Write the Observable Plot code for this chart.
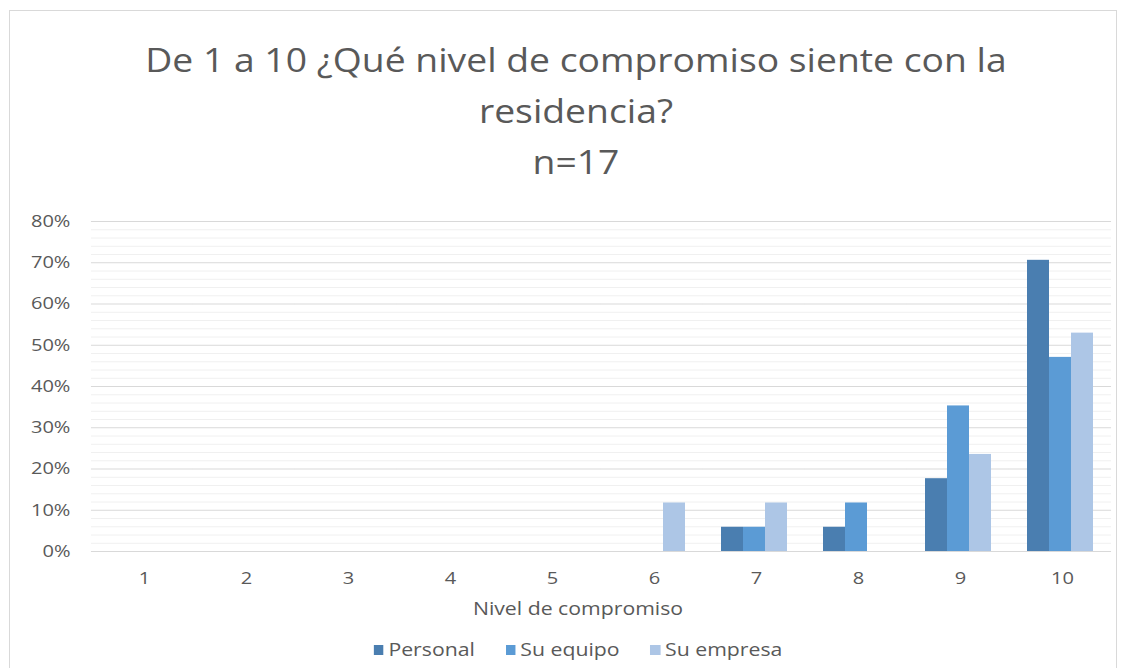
<!DOCTYPE html>
<html>
<head>
<meta charset="utf-8">
<script src="https://cdn.jsdelivr.net/npm/d3@7"></script>
<script src="https://cdn.jsdelivr.net/npm/@observablehq/plot@0.6"></script>
<style>
  html, body { margin: 0; padding: 0; background: #fff; width: 1127px; height: 668px; overflow: hidden; }
  body { position: relative; font-family: "Open Sans", sans-serif; color: #595959; }
  #frame { position: absolute; left: 9px; top: 10px; width: 1108px; height: 700px; border: 1px solid #d9d9d9; box-sizing: border-box; }
  #title { position: absolute; left: 76px; width: 1000px; top: 34px; text-align: center; font-size: 33px; line-height: 51px; color: #595959; transform: scaleX(1.13); transform-origin: 500px 0; }
  #chart { position: absolute; left: 0; top: 195px; }
  #xlabel { position: absolute; left: 378px; width: 400px; top: 596px; text-align: center; font-size: 18px; color: #595959; transform: scaleX(1.18); transform-origin: 200px 0; }
  #legend { position: absolute; left: 278px; width: 600px; top: 637px; text-align: center; font-size: 18px; color: #595959; white-space: nowrap; transform: scaleX(1.18); transform-origin: 300px 0; }
  #legend span.item { display: inline-block; margin: 0 13px; }
  #legend span.sw { display: inline-block; width: 8.5px; height: 10px; margin-right: 4px; vertical-align: 1px; }
</style>
</head>
<body>
<div id="frame"></div>
<div id="title">De 1 a 10 ¿Qué nivel de compromiso siente con la<br>residencia?<br>n=17</div>
<div id="chart"></div>
<div id="xlabel">Nivel de compromiso</div>
<div id="legend"></div>
<script>
// ---- data ----
const levels = ["1", "2", "3", "4", "5", "6", "7", "8", "9", "10"];
const seriesNames = ["Personal", "Su equipo", "Su empresa"];
const personal = [0, 0, 0, 0, 0, 0, 0.0588, 0.0588, 0.1765, 0.7059];
const suEquipo = [0, 0, 0, 0, 0, 0, 0.0588, 0.1176, 0.3529, 0.4706];
const suEmpresa = [0, 0, 0, 0, 0, 0.1176, 0.1176, 0, 0.2353, 0.5294];
const yTicks = [0, 0.1, 0.2, 0.3, 0.4, 0.5, 0.6, 0.7, 0.8];
const colors = ["#4a7eb0", "#5b9bd5", "#adc6e6"];

// ---- table ----
const valuesBySeries = [personal, suEquipo, suEmpresa];
const rows = [];
levels.forEach((lv, i) => {
  seriesNames.forEach((s, j) => rows.push({level: lv, series: s, value: valuesBySeries[j][i]}));
});
const minorGrid = d3.range(0, 0.801, 0.02).filter(v => Math.abs(Math.round(v * 10) - v * 10) > 1e-6);

const mLeft = 89, mRight = 15;
const step = (1127 - mLeft - mRight) / 10;
const gapHalf = step / 6;

const chart = Plot.plot({
  width: 1127,
  height: 430,
  marginLeft: mLeft,
  marginRight: mRight,
  marginTop: 26,
  marginBottom: 74,
  style: {fontFamily: "Open Sans, sans-serif", fontSize: "17px", color: "#595959", background: "transparent"},
  fx: {domain: levels, paddingInner: 1 / 3, paddingOuter: 1 / 6, label: null},
  x: {domain: seriesNames, padding: 0, axis: null},
  y: {domain: [0, 0.8], label: null},
  color: {domain: seriesNames, range: colors},
  marks: [
    Plot.ruleY(minorGrid, {y: d => d, stroke: "#f0f0f0", strokeWidth: 1, insetLeft: -gapHalf, insetRight: -gapHalf}),
    Plot.ruleY(yTicks, {y: d => d, stroke: "#d9d9d9", strokeWidth: 1, insetLeft: -gapHalf, insetRight: -gapHalf}),
    Plot.barY(rows, {fx: "level", x: "series", y: "value", fill: "series"}),
    Plot.axisFx({anchor: "bottom", tickSize: 0, tickPadding: 20, label: null, fontSize: 17, dx: 2}),
    Plot.axisY(yTicks, {anchor: "left", tickSize: 0, tickPadding: 8, tickFormat: d3.format(".0%"), label: null, fontSize: 17, dx: -gapHalf - 13})
  ]
});
document.getElementById("chart").appendChild(chart);

// horizontally stretch tick labels to match the reference's wide lettering
chart.querySelectorAll("text").forEach(t => {
  const tr = t.getAttribute("transform");
  if (tr) {
    t.setAttribute("transform", tr + " scale(1.18,1)");
  } else {
    const x = +t.getAttribute("x") || 0;
    t.setAttribute("transform", `translate(${x},0) scale(1.18,1) translate(${-x},0)`);
  }
});

// legend
const legend = document.getElementById("legend");
seriesNames.forEach((s, i) => {
  const item = document.createElement("span");
  item.className = "item";
  const sw = document.createElement("span");
  sw.className = "sw";
  sw.style.background = colors[i];
  item.appendChild(sw);
  item.appendChild(document.createTextNode(s));
  legend.appendChild(item);
});
</script>
</body>
</html>
